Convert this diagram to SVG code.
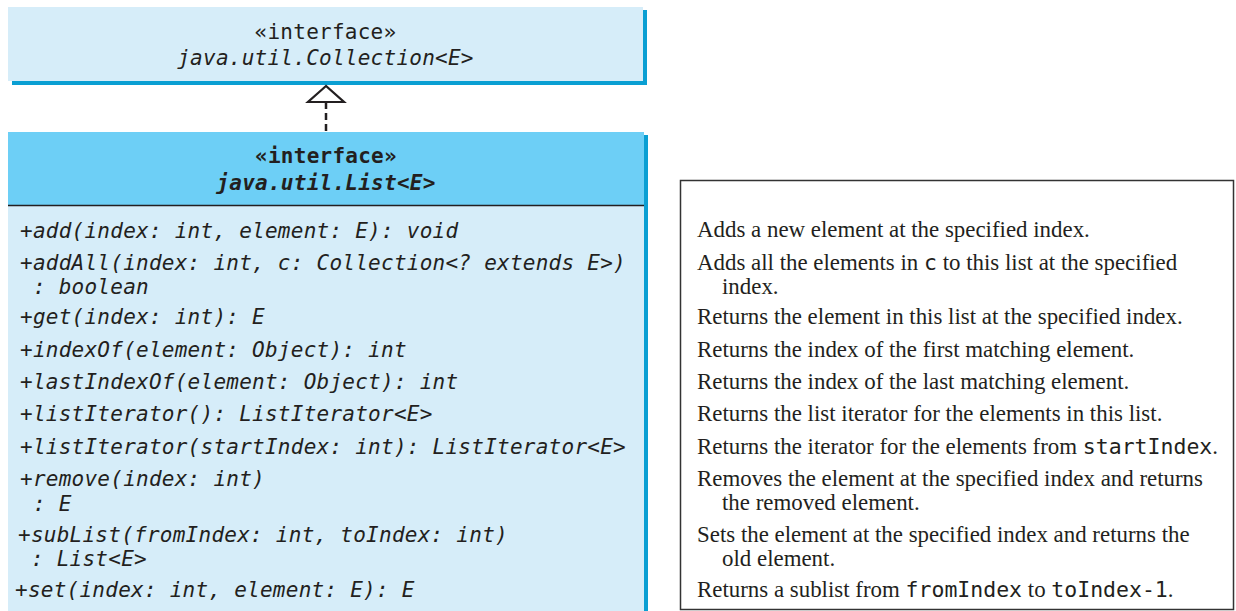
<svg xmlns="http://www.w3.org/2000/svg" width="1236" height="611" viewBox="0 0 1236 611">
<style>
.mono{font-family:"DejaVu Sans Mono","Liberation Mono",monospace;font-size:21px;fill:#231f20;letter-spacing:0.25px}
.it{font-style:italic}
.bd{font-weight:bold}
.mid{text-anchor:middle}
.serif{font-family:"Liberation Serif","Times New Roman",serif;font-size:22.9px;fill:#231f20}
.code{font-family:"DejaVu Sans Mono","Liberation Mono",monospace;font-size:21.5px}
.shadow{fill:#0a9fd3}
.light{fill:#d6edf9}
.head{fill:#6dcff6}
</style>
<g id="collection">
<rect class="shadow" x="12" y="10" width="635" height="75"/>
<rect class="light" x="8" y="7" width="635" height="74"/>
<text class="mono mid" x="325.5" y="39">«interface»</text>
<text class="mono mid it" x="325.5" y="65">java.util.Collection&lt;E&gt;</text>
</g>
<g id="list">
<rect class="shadow" x="12" y="135" width="636" height="480"/>
<rect class="head" x="8" y="132" width="636" height="74"/>
<rect class="light" x="8" y="206" width="636" height="410"/>
<line x1="8" y1="205.5" x2="644" y2="205.5" stroke="#231f20" stroke-width="1.5"/>
<text class="mono mid bd" x="326" y="163">«interface»</text>
<text class="mono mid bd it" x="326" y="190">java.util.List&lt;E&gt;</text>
<g class="mono it">
<text x="20" y="238">+add(index: int, element: E): void</text>
<text x="20" y="270">+addAll(index: int, c: Collection&lt;? extends E&gt;)</text>
<text x="20" y="294" xml:space="preserve"> : boolean</text>
<text x="20" y="324">+get(index: int): E</text>
<text x="20" y="357">+indexOf(element: Object): int</text>
<text x="20" y="389">+lastIndexOf(element: Object): int</text>
<text x="20" y="421">+listIterator(): ListIterator&lt;E&gt;</text>
<text x="20" y="454">+listIterator(startIndex: int): ListIterator&lt;E&gt;</text>
<text x="20" y="486">+remove(index: int)</text>
<text x="20" y="511" xml:space="preserve"> : E</text>
<text x="18" y="542">+subList(fromIndex: int, toIndex: int)</text>
<text x="18" y="566" xml:space="preserve"> : List&lt;E&gt;</text>
<text x="15" y="597">+set(index: int, element: E): E</text>
</g>
</g>
<g id="connectors">
<line x1="326" y1="102" x2="326" y2="132" stroke="#231f20" stroke-width="2.5" stroke-dasharray="7,4"/>
<polygon points="326,86 308,102 344,102" fill="#fff" stroke="#231f20" stroke-width="2.2" stroke-linejoin="miter"/>
</g>
<g id="descriptions">
<rect x="680.5" y="180.5" width="553" height="429" fill="#fff" stroke="#333" stroke-width="1.5"/>
<g class="serif">
<text x="697" y="237">Adds a new element at the specified index.</text>
<text x="697" y="270">Adds all the elements in <tspan class="code">c</tspan> to this list at the specified</text>
<text x="722" y="294">index.</text>
<text x="697" y="324">Returns the element in this list at the specified index.</text>
<text x="697" y="357">Returns the index of the first matching element.</text>
<text x="697" y="389">Returns the index of the last matching element.</text>
<text x="697" y="421">Returns the list iterator for the elements in this list.</text>
<text x="697" y="454">Returns the iterator for the elements from <tspan class="code">startIndex</tspan>.</text>
<text x="697" y="486">Removes the element at the specified index and returns</text>
<text x="722" y="510">the removed element.</text>
<text x="697" y="542">Sets the element at the specified index and returns the</text>
<text x="722" y="566">old element.</text>
<text x="697" y="597">Returns a sublist from <tspan class="code">fromIndex</tspan> to <tspan class="code">toIndex-1</tspan>.</text>
</g>
</g>
</svg>
